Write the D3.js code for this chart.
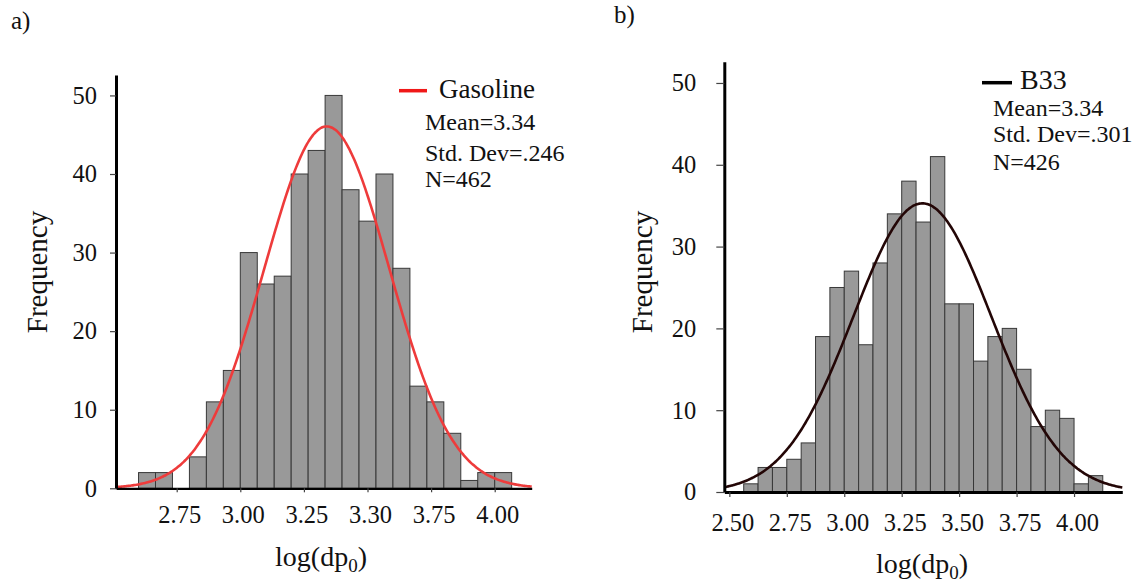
<!DOCTYPE html>
<html>
<head>
<meta charset="utf-8">
<script src="https://cdn.jsdelivr.net/npm/d3@7"></script>
<style>
  html, body { margin: 0; padding: 0; background: #fff; }
  svg { display: block; }
  text { font-family: "Liberation Serif", "Times New Roman", serif; fill: #111; }
</style>
</head>
<body>
<svg id="chart" width="1147" height="584"></svg>
<script>
// ---- Panel a) Gasoline ----
const gasBinStart = 2.6;
const gasBinWidth = 1 / 15;
const gasCounts = [2, 2, 0, 4, 11, 15, 30, 26, 27, 40, 43, 50, 38, 34, 40, 28, 13, 11, 7, 1, 2, 2];
const gasMean = 3.34;
const gasSD = 0.246;
const gasStats = ["Mean=3.34", "Std. Dev=.246", "N=462"];
const gasTickValues = [2.75, 3.00, 3.25, 3.50, 3.75, 4.00];
const gasTickLabels = ["2.75", "3.00", "3.25", "3.30", "3.75", "4.00"];

// ---- Panel b) B33 ----
const b33BinStart = 2.5625;
const b33BinWidth = 0.0625;
const b33Counts = [1, 3, 3, 4, 6, 19, 25, 27, 18, 28, 34, 38, 33, 41, 23, 23, 16, 19, 20, 15, 8, 10, 9, 1, 2];
const b33Mean = 3.34;
const b33SD = 0.301;
const b33Stats = ["Mean=3.34", "Std. Dev=.301", "N=426"];
const b33TickValues = [2.50, 2.75, 3.00, 3.25, 3.50, 3.75, 4.00];
const b33TickLabels = ["2.50", "2.75", "3.00", "3.25", "3.50", "3.75", "4.00"];

const freqTicks = [0, 10, 20, 30, 40, 50];

const SERIF = "'Liberation Serif', 'Times New Roman', serif";
const svg = d3.select("#chart");

function normalPdf(x, m, s) {
  return Math.exp(-0.5 * ((x - m) / s) ** 2) / (s * Math.sqrt(2 * Math.PI));
}

function drawPanel(cfg) {
  const g = svg.append("g");
  const x = d3.scaleLinear().domain(cfg.xDomain).range(cfg.xRange);
  const y = d3.scaleLinear().domain([0, 52.6]).range(cfg.yRange);

  // histogram bars
  const bins = cfg.counts.map((c, i) => ({
    x0: cfg.binStart + i * cfg.binWidth,
    x1: cfg.binStart + (i + 1) * cfg.binWidth,
    count: c
  })).filter(d => d.count > 0);

  g.append("g").selectAll("rect").data(bins).join("rect")
    .attr("x", d => x(d.x0))
    .attr("width", d => x(d.x1) - x(d.x0))
    .attr("y", d => y(d.count))
    .attr("height", d => y(0) - y(d.count))
    .attr("fill", "#999999")
    .attr("stroke", "#383838")
    .attr("stroke-width", 1);

  // fitted normal curve, scaled to the histogram total
  const total = d3.sum(cfg.counts);
  const [xa, xb] = x.domain();
  const pts = d3.range(0, 301).map(k => {
    const v = xa + (xb - xa) * k / 300;
    return [v, total * cfg.binWidth * normalPdf(v, cfg.mean, cfg.sd)];
  });
  g.append("path")
    .datum(pts)
    .attr("fill", "none")
    .attr("stroke", cfg.curveColor)
    .attr("stroke-width", 2.6)
    .attr("d", d3.line().x(d => x(d[0])).y(d => y(d[1])).curve(d3.curveBasis));

  // y axis
  const yAxis = g.append("g")
    .attr("transform", `translate(${cfg.xRange[0]},0)`)
    .call(d3.axisLeft(y).tickValues(freqTicks).tickSize(cfg.yTickSize).tickSizeOuter(0).tickPadding(cfg.yTickPad))
    .attr("font-family", SERIF).attr("font-size", 24.5);
  yAxis.select(".domain").attr("stroke", "#000").attr("stroke-width", 3);
  yAxis.selectAll(".tick line").attr("stroke", "#444").attr("stroke-width", 1.2);
  yAxis.selectAll(".tick text").attr("fill", "#111");

  // x axis
  const xAxis = g.append("g")
    .attr("transform", `translate(0,${cfg.yRange[0]})`)
    .call(d3.axisBottom(x).tickValues(cfg.tickValues)
      .tickFormat((d, i) => cfg.tickLabels[i]).tickSize(cfg.xTickSize).tickSizeOuter(0))
    .attr("font-family", SERIF).attr("font-size", 24.5);
  xAxis.select(".domain").attr("stroke", "#000").attr("stroke-width", cfg.xAxisWidth);
  xAxis.selectAll(".tick line").attr("stroke", "#444").attr("stroke-width", 1.2);
  xAxis.selectAll(".tick text").attr("fill", "#111")
    .attr("y", cfg.xLabelOffset).attr("dy", 0).attr("dx", cfg.xLabelDx);

  // axis titles
  g.append("text")
    .attr("transform", `translate(${cfg.yTitleX},272) rotate(-90)`)
    .attr("text-anchor", "middle")
    .attr("font-size", 29)
    .text("Frequency");

  const xt = g.append("text")
    .attr("x", cfg.xTitleX).attr("y", cfg.xTitleY)
    .attr("text-anchor", "middle")
    .attr("font-size", 28);
  xt.append("tspan").text("log(dp");
  xt.append("tspan").attr("font-size", 19).attr("dy", 6).text("0");
  xt.append("tspan").attr("dy", -6).text(")");

  // legend
  g.append("line")
    .attr("x1", cfg.legend.x1).attr("x2", cfg.legend.x2)
    .attr("y1", cfg.legend.ly).attr("y2", cfg.legend.ly)
    .attr("stroke", cfg.legendColor).attr("stroke-width", 3.5);
  g.append("text")
    .attr("x", cfg.legend.tx).attr("y", cfg.legend.ty)
    .attr("font-size", cfg.legend.titleSize)
    .text(cfg.name);
  g.append("g").selectAll("text").data(cfg.stats).join("text")
    .attr("x", cfg.legend.sx)
    .attr("y", (d, i) => cfg.legend.sy[i])
    .attr("font-size", 24)
    .text(d => d);

  // panel letter
  g.append("text")
    .attr("x", cfg.tag.x).attr("y", cfg.tag.y)
    .attr("font-size", 25)
    .text(cfg.tag.text);
}

drawPanel({
  name: "Gasoline",
  counts: gasCounts, binStart: gasBinStart, binWidth: gasBinWidth,
  mean: gasMean, sd: gasSD, stats: gasStats,
  tickValues: gasTickValues, tickLabels: gasTickLabels,
  xDomain: [2.5114, 4.1454], xRange: [116, 531.7], yRange: [488.3, 75],
  curveColor: "#ee3b3b", legendColor: "#f01818",
  yTickSize: 6, yTickPad: 13, xTickSize: 4, xAxisWidth: 2.2, xLabelOffset: 35, xLabelDx: 2.5,
  yTitleX: 47, xTitleX: 321, xTitleY: 566,
  legend: { x1: 399, x2: 427, ly: 90.7, tx: 439, ty: 98, titleSize: 27, sx: 425, sy: [130, 161, 187] },
  tag: { x: 11, y: 29, text: "a)" }
});

drawPanel({
  name: "B33",
  counts: b33Counts, binStart: b33BinStart, binWidth: b33BinWidth,
  mean: b33Mean, sd: b33SD, stats: b33Stats,
  tickValues: b33TickValues, tickLabels: b33TickLabels,
  xDomain: [2.478, 4.21], xRange: [724.3, 1122.3], yRange: [492, 61.7],
  curveColor: "#230606", legendColor: "#000",
  yTickSize: 8, yTickPad: 20, xTickSize: 5, xAxisWidth: 3, xLabelOffset: 38.7, xLabelDx: 3,
  yTitleX: 652, xTitleX: 922, xTitleY: 573,
  legend: { x1: 982, x2: 1012, ly: 82.7, tx: 1020, ty: 88.5, titleSize: 28, sx: 993, sy: [115.7, 142, 170] },
  tag: { x: 614, y: 23, text: "b)" }
});
</script>
</body>
</html>
